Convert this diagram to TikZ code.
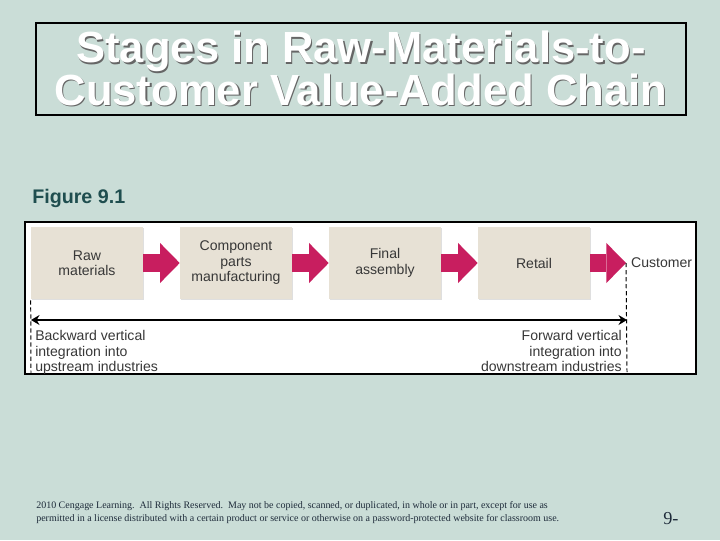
\documentclass[tikz,border=0pt]{standalone}
\usepackage{fontspec}
\setmainfont{Liberation Sans}
\newfontfamily\notefont{Liberation Serif}
\usetikzlibrary{arrows.meta,shadows}
\definecolor{slidebg}{HTML}{CADDD7}
\definecolor{stagefill}{HTML}{E7E1D5}
\definecolor{flowpink}{HTML}{C81E5F}
\definecolor{figteal}{HTML}{1F4E4F}
\definecolor{textgray}{HTML}{383838}
\definecolor{notedark}{HTML}{1E2B3A}

\begin{document}
\begin{tikzpicture}[
    x=0.025cm, y=-0.025cm,
    stage/.style={fill=stagefill, minimum width=2.8cm, minimum height=1.8cm,
      inner sep=0pt, align=center, text=textgray,
      font=\fontsize{10}{11}\selectfont,
      drop shadow={shadow xshift=0.6pt, shadow yshift=-0.9pt, opacity=0.25}},
    flow/.style={draw=flowpink, line width=13.5pt,
      -{Triangle[length=14pt, width=28.5pt, line width=0pt]}},
    span/.style={line width=1.8pt, {Stealth[length=6pt, width=7pt]}-{Stealth[length=6pt, width=7pt]}},
    guide/.style={line width=0.7pt, dash pattern=on 3pt off 2pt},
    lbl/.style={font=\fontsize{10}{10.8}\selectfont, text=textgray},
    head/.style={font=\bfseries\fontsize{31}{27.7}\selectfont, align=center, inner sep=0pt},
  ]

  % ---------- slide
  \fill[slidebg] (0,0) rectangle (720,540);
  \useasboundingbox (0,0) rectangle (720,540);

  % ---------- title
  \draw[line width=2.1pt] (36,23) rectangle (686,115);
  \node[head, text=black!60] (shade) at (362.2,69.7)
    {Stages in Raw-Materials-to-\\Customer Value-Added Chain};
  \node[head, text=white] (title) at (361,68.5)
    {Stages in Raw-Materials-to-\\Customer Value-Added Chain};

  \node[font=\bfseries\fontsize{14}{16}\selectfont, text=figteal, anchor=base west,
    inner sep=0pt] (fig) at (32,203) {Figure 9.1};

  % ---------- chain
  \draw[line width=2.1pt, fill=white] (25,222) rectangle (696,374);

  \node[stage] (raw) at (87,263) {Raw\\materials};
  \node[stage] (comp) at (236,263) {Component\\parts\\manufacturing};
  \node[stage] (final) at (385,263) {Final\\assembly};
  \node[stage] (retail) at (534,263) {Retail};
  \node[lbl, anchor=west, inner sep=3.5pt] (cust) at (626,263) {Customer};

  \draw[flow] (raw) -- (comp);
  \draw[flow] (comp) -- (final);
  \draw[flow] (final) -- (retail);
  \draw[flow] (retail) -- (cust);

  % ---------- integration
  \coordinate (bk) at (31,320);
  \coordinate (fw) at (627,320);
  \coordinate (bkend) at (31,373);
  \coordinate (fwend) at (627,372);
  \draw[guide] (raw.south west) ++(0,1) coordinate (bktop) -- (bkend);
  \draw[guide] (cust.west) -- (fwend);
  \draw[span] (bk) -- (fw);

  \node[lbl, anchor=north west, align=left, inner sep=0pt] (back) at (35,330.5)
    {Backward vertical\\integration into\\upstream industries};
  \node[lbl, anchor=north east, align=right, inner sep=0pt] (fwd) at (622,330.5)
    {Forward vertical\\integration into\\downstream industries};

  % ---------- footer
  \node[font=\notefont\fontsize{7.1}{9.2}\selectfont, text=notedark, anchor=north west,
    align=left, inner sep=0pt] (note) at (36,501.5)
    {2010 Cengage Learning.\ \ All Rights Reserved.\ \ May not be copied, scanned, or duplicated, in whole or in part, except for use as\\
     permitted in a license distributed with a certain product or service or otherwise on a password-protected website for classroom use.};
  \node[font=\notefont\fontsize{13}{15}\selectfont, text=notedark, anchor=base west,
    inner sep=0pt] (page) at (663,524) {9-};

\end{tikzpicture}
\end{document}
